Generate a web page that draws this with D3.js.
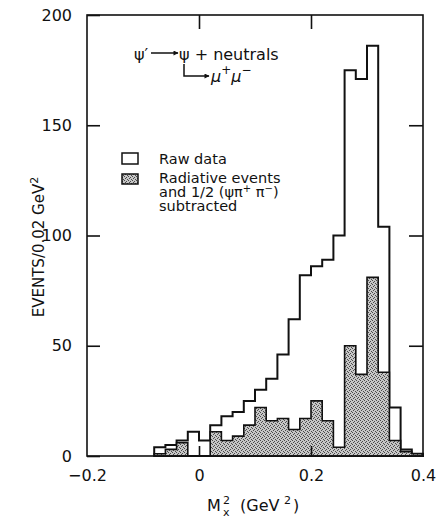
<!DOCTYPE html>
<html>
<head>
<meta charset="utf-8">
<script src="https://cdn.jsdelivr.net/npm/d3@7"></script>
<style>
  body { margin: 0; background: #fff; }
  text { font-family: "DejaVu Sans", sans-serif; fill: #111; }
</style>
</head>
<body>
<svg id="chart" width="439" height="518"></svg>
<script>
// bins of 0.02 GeV^2, lower edges
var binStarts = [-0.08, -0.06, -0.04, -0.02, 0.00, 0.02, 0.04, 0.06, 0.08, 0.10, 0.12, 0.14,
  0.16, 0.18, 0.20, 0.22, 0.24, 0.26, 0.28, 0.30, 0.32, 0.34, 0.36, 0.38];
var binWidth = 0.02;
var rawCounts = [4, 5, 7, 11, 7, 14, 18, 20, 25, 30, 35, 46,
  62, 82, 86, 89, 100, 175, 171, 186, 104, 22, 3, 1];
var subtractedCounts = [1, 3, 6, 0, 0, 11, 7, 9, 14, 22, 16, 17,
  12, 17, 25, 16, 4, 50, 37, 81, 38, 7, 2, 1];
var xTicks = [-0.2, 0, 0.2, 0.4];
var xInnerTicks = [0, 0.2];
var yTicks = [0, 50, 100, 150, 200];

var svg = d3.select('#chart');
var plotLeft = 87, plotRight = 423, plotTop = 15, plotBottom = 456;

var x = d3.scaleLinear().domain([-0.2, 0.4]).range([plotLeft, plotRight]);
var y = d3.scaleLinear().domain([0, 200]).range([plotBottom, plotTop]);

// stipple fill for the shaded histogram
var defs = svg.append('defs');
var pat = defs.append('pattern')
  .attr('id', 'stipple')
  .attr('patternUnits', 'userSpaceOnUse')
  .attr('width', 4).attr('height', 4);
pat.append('rect').attr('width', 4).attr('height', 4).attr('fill', '#c6c6c6');
[[0, 0], [2, 1], [1, 2], [3, 3]].forEach(function (p) {
  pat.append('rect').attr('x', p[0]).attr('y', p[1])
    .attr('width', 1).attr('height', 1).attr('fill', '#4a4a4a');
});

function stepPoints(counts) {
  var pts = binStarts.map(function (b, i) { return [b, counts[i]]; });
  pts.push([binStarts[binStarts.length - 1] + binWidth, counts[counts.length - 1]]);
  return pts;
}

var area = d3.area()
  .curve(d3.curveStepAfter)
  .x(function (d) { return x(d[0]); })
  .y0(y(0))
  .y1(function (d) { return y(d[1]); });

// Raw data -------------------- //
svg.append('path')
  .datum(stepPoints(rawCounts))
  .attr('d', area)
  .attr('fill', '#fff')
  .attr('stroke', '#111')
  .attr('stroke-width', 2);

// Subtracted ------------------ //
svg.append('path')
  .datum(stepPoints(subtractedCounts))
  .attr('d', area)
  .attr('fill', 'url(#stipple)')
  .attr('stroke', '#111')
  .attr('stroke-width', 1.6);

// Frame and ticks ------------- //
svg.append('rect')
  .attr('x', plotLeft).attr('y', plotTop)
  .attr('width', plotRight - plotLeft).attr('height', plotBottom - plotTop)
  .attr('fill', 'none')
  .attr('stroke', '#111')
  .attr('stroke-width', 1.6);

function styleAxis(g) {
  g.select('.domain').remove();
  g.selectAll('.tick line').attr('stroke', '#111').attr('stroke-width', 1.6);
  g.selectAll('.tick text').style('font-size', '16px').attr('fill', '#111');
}

svg.append('g')
  .attr('transform', 'translate(' + plotLeft + ',0)')
  .call(d3.axisLeft(y).tickValues(yTicks).tickSize(-13).tickPadding(15).tickFormat(d3.format('d')))
  .call(styleAxis)
  .call(function (g) { g.attr('font-family', null); });

svg.append('g')
  .attr('transform', 'translate(' + plotRight + ',0)')
  .call(d3.axisRight(y).tickValues([50, 100, 150]).tickSize(-14).tickFormat(''))
  .call(styleAxis);

svg.append('g')
  .attr('transform', 'translate(0,' + plotTop + ')')
  .call(d3.axisTop(x).tickValues(xInnerTicks).tickSize(-14).tickFormat(''))
  .call(styleAxis);

svg.append('g')
  .attr('transform', 'translate(0,' + plotBottom + ')')
  .call(d3.axisBottom(x).tickValues(xTicks).tickSize(-10).tickPadding(14)
    .tickFormat(function (d) { return d === 0 ? '0' : d3.format('.1f')(d).replace('-', '\u2212'); }))
  .call(styleAxis)
  .call(function (g) {
    g.attr('font-family', null);
    g.selectAll('.tick line').filter(function (d) { return d === -0.2 || d === 0.4; }).remove();
  });

// Axis titles ----------------- //
var yTitle = svg.append('text')
  .attr('transform', 'translate(44,247) rotate(-90)')
  .attr('text-anchor', 'middle')
  .style('font-size', '15px');
yTitle.append('tspan').text('EVENTS/0.02 GeV');
yTitle.append('tspan').attr('dy', -6).style('font-size', '11px').text('2');

var xTitle = svg.append('g').style('font-size', '16px');
xTitle.append('text').attr('x', 207).attr('y', 511).text('M');
xTitle.append('text').attr('x', 223).attr('y', 504).style('font-size', '11px').text('2');
xTitle.append('text').attr('x', 223).attr('y', 516).style('font-size', '11px').text('x');
xTitle.append('text').attr('x', 240).attr('y', 511).text('(GeV');
xTitle.append('text').attr('x', 284).attr('y', 504).style('font-size', '11px').text('2');
xTitle.append('text').attr('x', 293).attr('y', 511).text(')');

// Reaction label -------------- //
defs.append('marker')
  .attr('id', 'arrow')
  .attr('viewBox', '0 0 10 10')
  .attr('refX', 9).attr('refY', 5)
  .attr('markerWidth', 6).attr('markerHeight', 5)
  .attr('markerUnits', 'userSpaceOnUse')
  .attr('orient', 'auto')
  .append('path').attr('d', 'M0,0 L10,5 L0,10 Z').attr('fill', '#111');

var note = svg.append('g').style('font-size', '16px');
note.append('text').attr('x', 134).attr('y', 60).text('\u03C8\u2032');
note.append('line')
  .attr('x1', 151).attr('y1', 53).attr('x2', 178).attr('y2', 53)
  .attr('stroke', '#111').attr('stroke-width', 1.5)
  .attr('marker-end', 'url(#arrow)');
note.append('text').attr('x', 179).attr('y', 60).text('\u03C8 + neutrals');
note.append('path')
  .attr('d', 'M184,64 V76 H209')
  .attr('fill', 'none')
  .attr('stroke', '#111').attr('stroke-width', 1.5)
  .attr('marker-end', 'url(#arrow)');
var mu = note.append('text').attr('x', 211).attr('y', 82).style('font-style', 'italic');
mu.append('tspan').text('\u03BC');
mu.append('tspan').attr('dy', -8).style('font-size', '12px').text('+');
mu.append('tspan').attr('dy', 8).text('\u03BC');
mu.append('tspan').attr('dy', -8).style('font-size', '12px').text('\u2212');

// Legend ---------------------- //
var legend = svg.append('g').style('font-size', '14.5px');
legend.append('rect')
  .attr('x', 122).attr('y', 153).attr('width', 16).attr('height', 11)
  .attr('fill', '#fff').attr('stroke', '#111').attr('stroke-width', 1.5);
legend.append('rect')
  .attr('x', 122).attr('y', 174).attr('width', 16).attr('height', 10)
  .attr('fill', 'url(#stipple)').attr('stroke', '#111').attr('stroke-width', 1.5);
legend.append('text').attr('x', 159).attr('y', 164).text('Raw data');
legend.append('text').attr('x', 159).attr('y', 183).text('Radiative events');
var l2 = legend.append('text').attr('x', 159).attr('y', 197);
l2.append('tspan').text('and 1/2 (\u03C8\u03C0');
l2.append('tspan').attr('dy', -5).style('font-size', '10px').text('+');
l2.append('tspan').attr('dy', 5).text(' \u03C0');
l2.append('tspan').attr('dy', -5).style('font-size', '10px').text('\u2212');
l2.append('tspan').attr('dy', 5).text(')');
legend.append('text').attr('x', 159).attr('y', 211).text('subtracted');
</script>
</body>
</html>
